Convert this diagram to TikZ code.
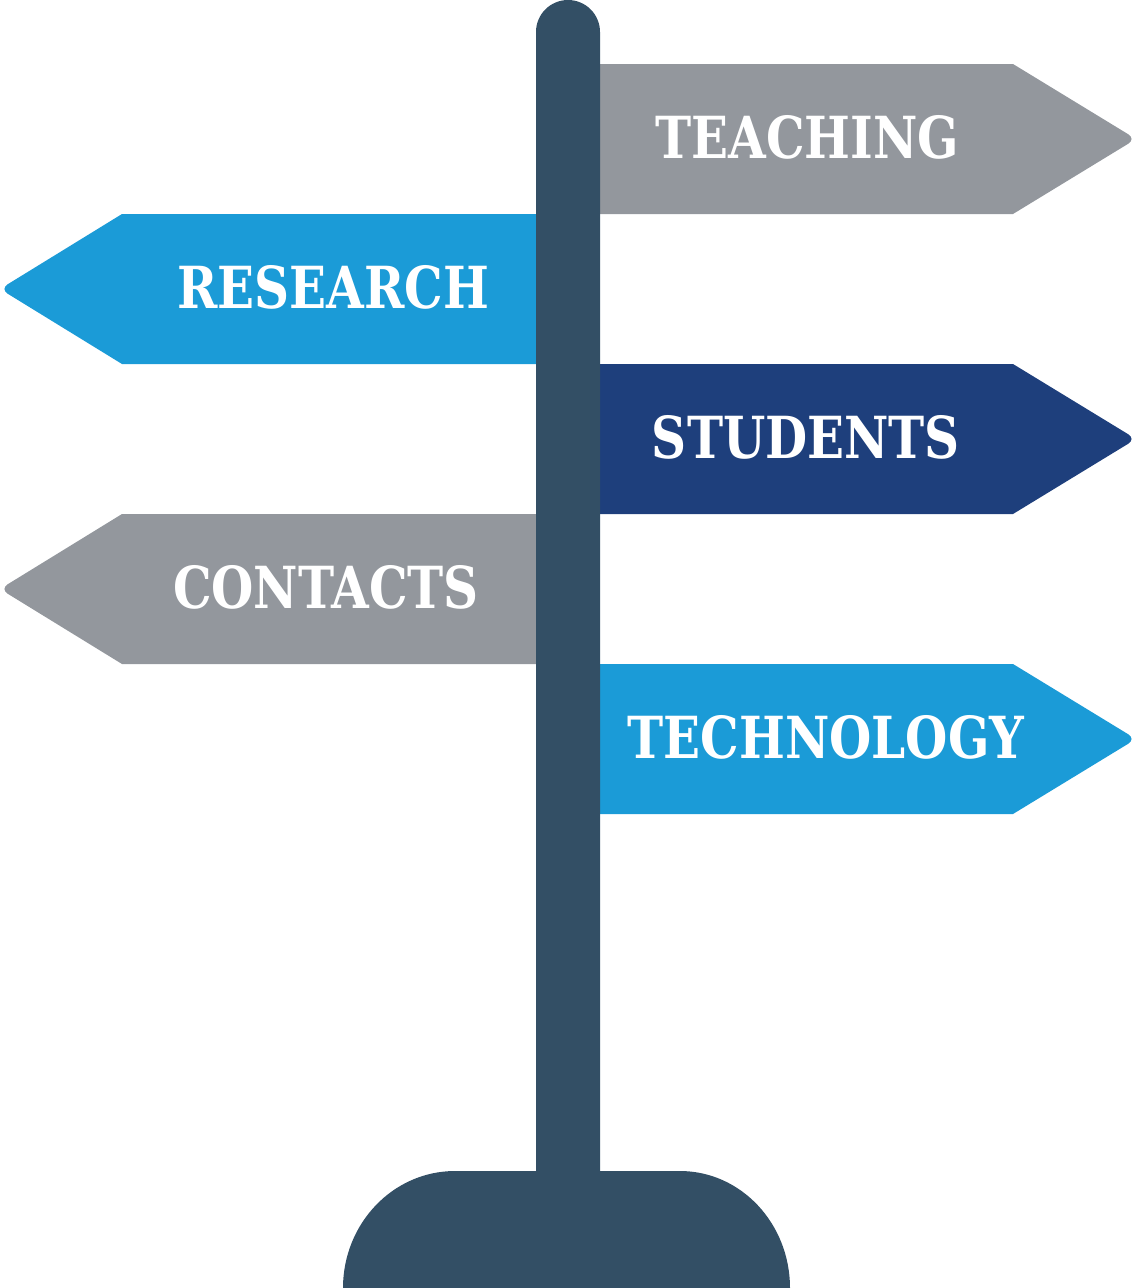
\documentclass[tikz,border=0pt]{standalone}
\usepackage{fontspec}
\newfontfamily\signfont{DejaVu Serif Condensed}[FakeStretch=0.93]
\definecolor{signgray}{HTML}{93979D}
\definecolor{signlight}{HTML}{1B9BD7}
\definecolor{signdark}{HTML}{1E3F7C}
\definecolor{polecol}{HTML}{334F65}
\begin{document}
\begin{tikzpicture}[x=1pt,y=-1pt,
  signtext/.style={text=white,font=\signfont\bfseries\fontsize{58}{58}\selectfont,inner sep=0pt,anchor=center}]
\useasboundingbox (0,0) rectangle (1136,1288);
% right signs
\newcommand{\rsign}[2]{\fill[#2] (600,#1) -- (1013,#1) [rounded corners=9pt] -- (1136,#1+75) [sharp corners] -- (1013,#1+150) -- (600,#1+150) -- cycle;}
\newcommand{\lsign}[2]{\fill[#2] (536,#1) -- (122,#1) [rounded corners=9pt] -- (0,#1+75) [sharp corners] -- (122,#1+150) -- (536,#1+150) -- cycle;}
\rsign{64}{signgray}
\lsign{214}{signlight}
\rsign{364}{signdark}
\lsign{514}{signgray}
\rsign{664}{signlight}
% pole
\fill[polecol] (536,1175) -- (536,32) arc[start angle=180,end angle=360,radius=32] -- (600,1175) -- cycle;
% base
\fill[polecol] (343,1288) arc[x radius=112,y radius=117,start angle=180,end angle=270] -- (680,1171) arc[x radius=110,y radius=117,start angle=270,end angle=360] -- cycle;
% labels
\node[signtext] (teaching) at (807.5,137) {TEACHING};
\node[signtext] (research) at (333,287) {RESEARCH};
\node[signtext] (students) at (806,437) {STUDENTS};
\node[signtext] (contacts) at (326,587) {CONTACTS};
\node[signtext] (technology) at (826,737) {TECHNOLOGY};
\end{tikzpicture}
\end{document}
